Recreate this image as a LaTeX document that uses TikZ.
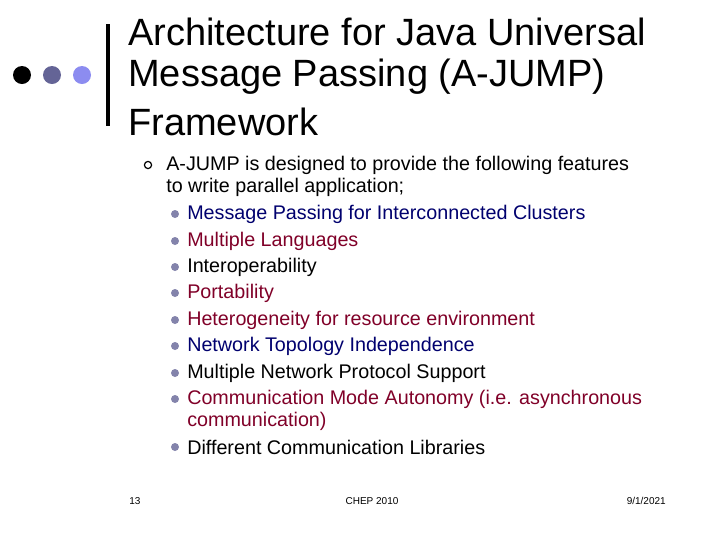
\documentclass[tikz,border=0pt]{standalone}
\usepackage{fontspec}
\setmainfont{Liberation Sans}
\definecolor{navytext}{RGB}{0,0,110}
\definecolor{redtext}{RGB}{128,0,40}
\definecolor{dotmid}{RGB}{100,100,150}
\definecolor{dotlight}{RGB}{140,140,240}
\tikzset{
  titleline/.style={anchor=west, inner sep=0pt, font=\fontsize{28.5}{32}\selectfont},
  bodyline/.style={anchor=west, inner sep=0pt, font=\fontsize{14.8}{17}\selectfont},
  subdot/.style={circle, fill=dotmid!80, inner sep=0pt, minimum size=6pt},
  footer/.style={inner sep=0pt, font=\fontsize{7.5}{9}\selectfont}
}
\begin{document}
\begin{tikzpicture}[x=0.75pt, y=-0.75pt]
        \useasboundingbox (0,0) rectangle (720,540);
        % Title decoration
        \fill[black] (22,75) circle (9);
        \fill[dotmid] (52,75) circle (9);
        \fill[dotlight] (82,75) circle (9);
        \fill[black] (106,24) rectangle (110,126);
        % Title
        \node[titleline] (t1) at (128,32) {Architecture for Java Universal};
        \node[titleline] (t2) at (128,77) {Message Passing (A-JUMP)};
        \node[titleline] (t3) at (128,122) {Framework};
        % Main bullet
        \draw[line width=0.9pt] (148,165) circle (3.6);
        \node[bodyline] (intro1) at (166,165) {A-JUMP is designed to provide the following features};
        \node[bodyline] (intro2) at (166,187) {to write parallel application;};
        % Sub bullets
        \foreach \y/\c/\txt in {214/navytext/Message Passing for Interconnected Clusters,
                                241/redtext/Multiple Languages,
                                267/black/Interoperability,
                                293/redtext/Portability,
                                320/redtext/Heterogeneity for resource environment,
                                346/navytext/Network Topology Independence,
                                373/black/Multiple Network Protocol Support,
                                399/redtext/Communication Mode Autonomy (i.e. asynchronous,
                                447/black/Different Communication Libraries} {
          \node[subdot] at (175,\y) {};
          \node[bodyline, text=\c] at (187,\y) {\txt};
        }
        \node[bodyline, text=redtext] (cont) at (187,421) {communication)};
        % Footer
        \node[footer, anchor=west] (num) at (129,501) {13};
        \node[footer] (conf) at (372,501) {CHEP 2010};
        \node[footer, anchor=east] (date) at (666,501) {9/1/2021};
    \end{tikzpicture}
\end{document}
